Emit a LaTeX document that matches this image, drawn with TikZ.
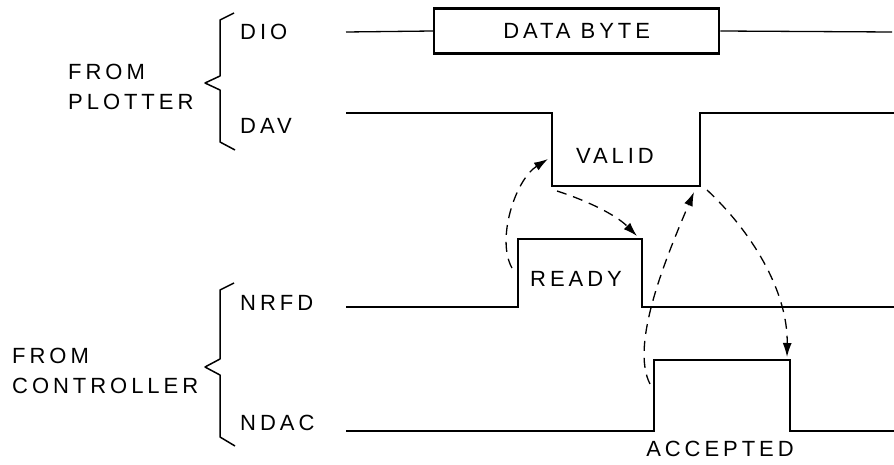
\documentclass[tikz,border=0pt]{standalone}
\usepackage{fontspec}
\setmainfont{Liberation Sans}[LetterSpace=18]
\usetikzlibrary{arrows.meta}
\begin{document}
\begin{tikzpicture}[x=1pt,y=-1pt,
  sig/.style={line width=2.8pt,line join=miter},
  thin/.style={line width=1.3pt},
  brace/.style={line width=1.5pt,line join=round},
  lbl/.style={font=\fontsize{22}{30}\selectfont,inner sep=0pt},
  hand/.style={line width=1.3pt,dash pattern=on 10pt off 7pt,
    -{Latex[length=14pt,width=9pt]}}]
\useasboundingbox (0,0) rectangle (894,465);
% labels
\node[lbl,anchor=west] (dio) at (240,32) {DIO};
\node[lbl,anchor=west] (dav) at (240,126) {DAV};
\node[lbl,anchor=west] (nrfd) at (240,303) {NRFD};
\node[lbl,anchor=west] (ndac) at (240,423) {NDAC};
\node[lbl,anchor=west,align=left] (plotter) at (68,87) {FROM\\PLOTTER};
\node[lbl,anchor=west,align=left] (controller) at (12,371) {FROM\\CONTROLLER};
% braces
\draw[brace] (234,13) -- (220,20) -- (220,76) -- (205,83) -- (220,90) -- (220,142) -- (235,150);
\draw[brace] (234,283) -- (220,290) -- (220,359) -- (205,367) -- (220,375) -- (220,437) -- (235,446);
% DIO
\node[draw,line width=2.4pt,minimum width=285pt,minimum height=45pt,inner sep=0pt,
  anchor=west,lbl] (byte) at (433,31) {DATA BYTE};
\coordinate (dioL) at (346,32);
\coordinate (dioR) at (892,32);
\draw[thin] (dioL) -- (byte.west);
\draw[thin] (byte.east) -- (dioR);
% DAV
\coordinate (davF) at (552,113);
\coordinate (davR) at (700,113);
\draw[sig] (346,113) -- (davF) -- (552,186) -- (700,186) -- (davR) -- (894,113);
\node[lbl] (valid) at (615,156) {VALID};
% NRFD
\draw[sig] (346,307) -- (518,307) -- (518,239) -- (642,239) -- (642,307) -- (894,307);
\node[lbl] (ready) at (576,279) {READY};
% NDAC
\draw[sig] (346,431) -- (654,431) -- (654,360) -- (790,360) -- (790,431) -- (894,431);
\node[lbl] (acc) at (720,449) {ACCEPTED};
% handshake arrows
\coordinate (a1s) at (512,268); \coordinate (a1e) at (548,159);
\coordinate (a2s) at (557,191); \coordinate (a2e) at (637,236);
\coordinate (a3s) at (650,384); \coordinate (a3e) at (694,192);
\coordinate (a4s) at (707,190); \coordinate (a4e) at (787,357);
\draw[hand] (a1s) .. controls (496,240) and (515,180) .. (a1e);
\draw[hand] (a2s) .. controls (585,200) and (615,214) .. (a2e);
\draw[hand] (a3s) .. controls (630,345) and (665,260) .. (a3e);
\draw[hand] (a4s) .. controls (750,230) and (788,290) .. (a4e);
\end{tikzpicture}
\end{document}
